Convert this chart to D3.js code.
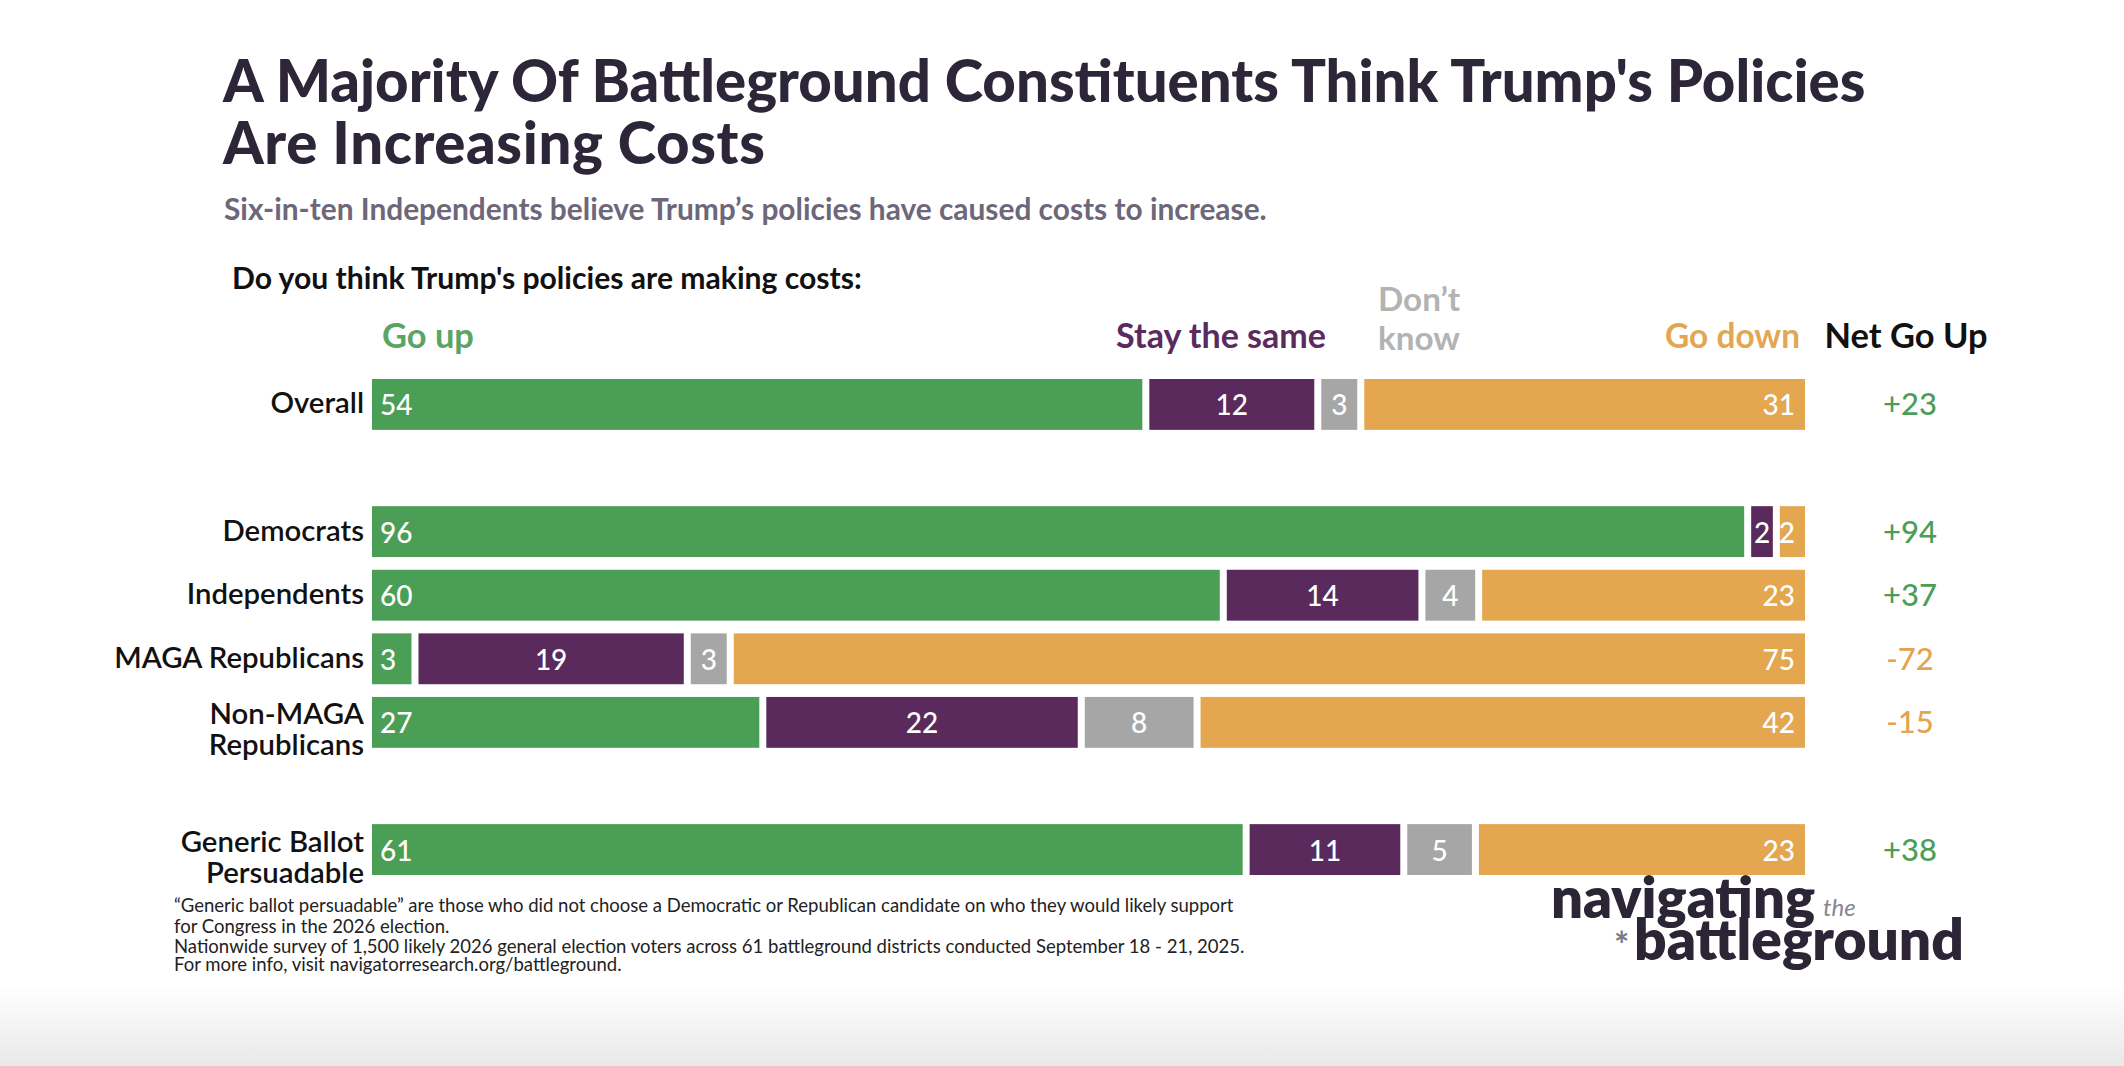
<!DOCTYPE html>
<html>
<head>
<meta charset="utf-8">
<script src="https://cdn.jsdelivr.net/npm/d3@7"></script>
<style>
  html, body { margin: 0; padding: 0; background: #fff; }
  text { font-family: Lato, "Open Sans", sans-serif; }
</style>
</head>
<body>
<div id="chart"></div>
<script>
// Survey groups and answer shares (%)
var groups = ["Overall", "Democrats", "Independents", "MAGA Republicans", "Non-MAGA\nRepublicans", "Generic Ballot\nPersuadable"];
var goUp = [54, 96, 60, 3, 27, 61];
var staySame = [12, 2, 14, 19, 22, 11];
var dontKnow = [3, 0, 4, 3, 8, 5];
var goDown = [31, 2, 23, 75, 42, 23];
var netGoUp = [23, 94, 37, -72, -15, 38];

var answerKeys = ["goUp", "staySame", "dontKnow", "goDown"];
var answerColors = ["#4b9e56", "#5a2a5d", "#a6a6a6", "#e4a64f"];

var width = 2124, height = 1066;

var svg = d3.select("#chart")
  .append("svg")
  .attr("width", width)
  .attr("height", height);

// light grey strip at the bottom of the slide
var grad = svg.append("defs").append("linearGradient")
  .attr("id", "bottomFade").attr("x1", 0).attr("y1", 0).attr("x2", 0).attr("y2", 1);
grad.append("stop").attr("offset", "0%").attr("stop-color", "#ffffff");
grad.append("stop").attr("offset", "100%").attr("stop-color", "#e9e9e9");
svg.append("rect")
  .attr("x", 0).attr("y", 985).attr("width", width).attr("height", height - 985)
  .attr("fill", "url(#bottomFade)");

// shrink/grow font size so text spans a given width
function fitText(sel, w) {
  var cur = sel.node().getComputedTextLength();
  var fs = parseFloat(sel.attr("font-size"));
  sel.attr("font-size", fs * w / cur);
  return fs * w / cur;
}

// Title + subtitle
var t1 = svg.append("text")
  .attr("x", 223).attr("y", 102)
  .attr("font-size", 50).attr("font-weight", 900).attr("fill", "#2c2638")
  .text("A Majority Of Battleground Constituents Think Trump's Policies");
var titleSize = fitText(t1, 1643);
svg.append("text")
  .attr("x", 223).attr("y", 164)
  .attr("font-size", titleSize).attr("font-weight", 900).attr("fill", "#2c2638")
  .attr("letter-spacing", 0.6)
  .text("Are Increasing Costs");

var sub = svg.append("text")
  .attr("x", 224).attr("y", 220)
  .attr("font-size", 22).attr("font-weight", 700).attr("fill", "#6d6779")
  .text("Six-in-ten Independents believe Trump\u2019s policies have caused costs to increase.");
fitText(sub, 1043);

var q = svg.append("text")
  .attr("x", 232).attr("y", 289)
  .attr("font-size", 21).attr("font-weight", 700).attr("fill", "#111")
  .text("Do you think Trump's policies are making costs:");
fitText(q, 630);

// rows, with blank slots between the three blocks
var slots = [groups[0], "gap1", groups[1], groups[2], groups[3], groups[4], "gap2", groups[5]];

var y = d3.scaleBand()
  .domain(slots)
  .range([379, 875])
  .paddingInner(0.2)
  .paddingOuter(0);

var x = d3.scaleLinear()
  .domain([0, 1])
  .range([372, 1805]);

var rows = groups.map(function (g, i) {
  return { group: g, goUp: goUp[i], staySame: staySame[i], dontKnow: dontKnow[i], goDown: goDown[i], net: netGoUp[i] };
});

var stack = d3.stack()
  .keys(answerKeys)
  .offset(d3.stackOffsetExpand);
var series = stack(rows);

var gap = 3.5;
var layer = svg.selectAll(".layer")
  .data(series)
  .enter()
  .append("g")
  .attr("class", "layer")
  .attr("fill", function (d, i) { return answerColors[i]; });

layer.selectAll("rect")
  .data(function (d) { return d.filter(function (p) { return p[1] > p[0]; }); })
  .enter()
  .append("rect")
  .attr("x", function (d) { return x(d[0]) + (d[0] > 0 ? gap : 0); })
  .attr("width", function (d) {
    return x(d[1]) - x(d[0]) - (d[0] > 0 ? gap : 0) - (d[1] < 1 ? gap : 0);
  })
  .attr("y", function (d) { return y(d.data.group); })
  .attr("height", y.bandwidth());

// numbers inside the bars
layer.each(function (s, i) {
  d3.select(this).selectAll("text")
    .data(s.filter(function (p) { return p[1] > p[0]; }))
    .enter()
    .append("text")
    .attr("x", function (d) {
      var a = x(d[0]) + (d[0] > 0 ? gap : 0), b = x(d[1]) - (d[1] < 1 ? gap : 0);
      if (i === 0) return a + 8;
      if (i === 3) return b - 10;
      return (a + b) / 2;
    })
    .attr("y", function (d) { return y(d.data.group) + y.bandwidth() / 2 + 11; })
    .attr("text-anchor", i === 0 ? "start" : i === 3 ? "end" : "middle")
    .attr("font-size", 28)
    .attr("font-weight", 500)
    .attr("fill", "#fff")
    .text(function (d) { return d.data[s.key]; });
});

// row labels
var rowLabels = svg.selectAll(".rowLabel")
  .data(groups)
  .enter()
  .append("text")
  .attr("class", "rowLabel")
  .attr("text-anchor", "end")
  .attr("font-family", "'Open Sans', sans-serif")
  .attr("font-size", 24)
  .attr("font-weight", 600)
  .attr("fill", "#111")
  .each(function (g) {
    var lines = g.split("\n");
    var cy = y(g) + y.bandwidth() / 2;
    var el = d3.select(this);
    lines.forEach(function (ln, k) {
      el.append("tspan")
        .attr("x", 364)
        .attr("y", lines.length === 1 ? cy + 9 : cy + 2 + k * 31)
        .text(ln);
    });
  });
// size the labels so "MAGA Republicans" matches the reference width
var magaLabel = rowLabels.filter(function (g) { return g === "MAGA Republicans"; });
var labelSize = 24 * 250 / magaLabel.node().getComputedTextLength();
rowLabels.attr("font-size", labelSize);

// net column
var fmtNet = function (v) { return (v > 0 ? "+" : "-") + Math.abs(v); };
svg.selectAll(".net")
  .data(rows)
  .enter()
  .append("text")
  .attr("class", "net")
  .attr("x", 1910)
  .attr("y", function (d) { return y(d.group) + y.bandwidth() / 2 + 11; })
  .attr("text-anchor", "middle")
  .attr("font-size", 31)
  .attr("font-weight", 500)
  .attr("fill", function (d) { return d.net >= 0 ? "#4c9e57" : "#e3a350"; })
  .text(function (d) { return fmtNet(d.net); });

// column headers (sized to the widths seen in the reference)
var head = svg.append("g")
  .attr("font-family", "'Open Sans', sans-serif")
  .attr("font-size", 26).attr("font-weight", 700);
fitText(head.append("text").attr("x", 382).attr("y", 348).attr("font-size", 26).attr("fill", "#5ba463").text("Go up"), 92);
fitText(head.append("text").attr("x", 1326).attr("y", 348).attr("font-size", 26).attr("text-anchor", "end").attr("fill", "#5b2a5f").text("Stay the same"), 210);
var dk = head.append("text").attr("x", 1378).attr("y", 350).attr("font-size", 26).attr("fill", "#b3b3b3").text("know");
var dkSize = fitText(dk, 82);
head.append("text").attr("x", 1378).attr("y", 311).attr("font-size", dkSize).attr("fill", "#b3b3b3").text("Don\u2019t");
fitText(head.append("text").attr("x", 1800).attr("y", 348).attr("font-size", 26).attr("text-anchor", "end").attr("fill", "#e3a654").text("Go down"), 135);
fitText(head.append("text").attr("x", 1906).attr("y", 348).attr("font-size", 26).attr("text-anchor", "middle").attr("fill", "#111").text("Net Go Up"), 163);

// footnotes
var notes = [
  "\u201cGeneric ballot persuadable\u201d are those who did not choose a Democratic or Republican candidate on who they would likely support",
  "for Congress in the 2026 election.",
  "Nationwide survey of 1,500 likely 2026 general election voters across 61 battleground districts conducted September 18 - 21, 2025.",
  "For more info, visit navigatorresearch.org/battleground."
];
var noteY = [912, 933, 953, 971];
var n0 = svg.append("text").attr("x", 174).attr("y", noteY[0])
  .attr("font-size", 16).attr("fill", "#222").text(notes[0]);
var noteSize = fitText(n0, 1060);
notes.slice(1).forEach(function (t, i) {
  svg.append("text").attr("x", 174).attr("y", noteY[i + 1])
    .attr("font-size", noteSize).attr("fill", "#222").text(t);
});

// logo
var logo = svg.append("g").attr("fill", "#2b2535").attr("font-weight", 800);
var bt = logo.append("text").attr("x", 1634).attr("y", 960).attr("font-size", 50).text("battleground");
var logoSize = fitText(bt, 330);
var nv = logo.append("text").attr("x", 1551).attr("y", 918).attr("font-size", logoSize).text("navigating");
fitText(nv, 264);
svg.append("text").attr("x", 1823).attr("y", 916)
  .attr("font-size", 24).attr("font-style", "italic").attr("fill", "#8a8591").text("the");
svg.append("text").attr("x", 1614).attr("y", 958)
  .attr("font-size", 36).attr("font-weight", 700).attr("fill", "#7d7885").text("*");
</script>
</body>
</html>
